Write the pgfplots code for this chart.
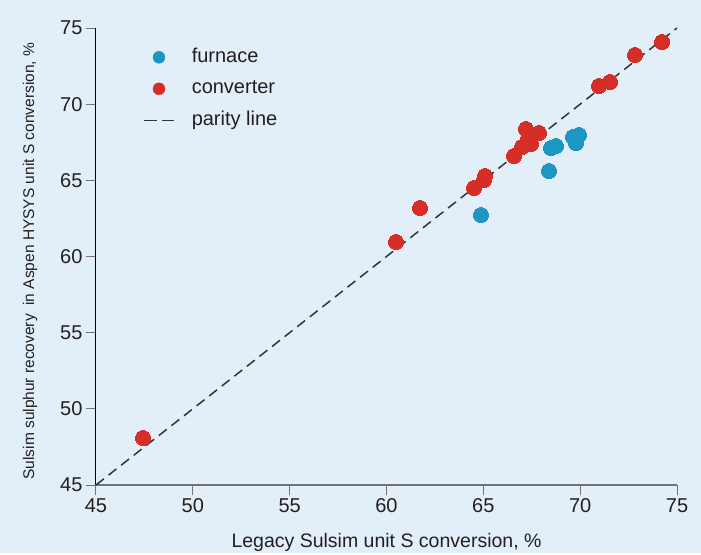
\documentclass[border=0pt]{standalone}
\usepackage{fontspec}
\setmainfont{Liberation Sans}
\usepackage{pgfplots}
\pgfplotsset{compat=1.18}
\usetikzlibrary{backgrounds}
\definecolor{bgblue}{RGB}{226,239,249}
\definecolor{furnace}{RGB}{30,150,196}
\definecolor{converter}{RGB}{212,46,38}
\definecolor{axisgray}{RGB}{115,115,115}
\definecolor{txt}{RGB}{35,31,32}
\definecolor{parity}{RGB}{51,51,51}
\begin{document}
\begin{tikzpicture}
\begin{axis}[
  scale only axis,
  width=581bp, height=457bp,
  xmin=45, xmax=75, ymin=45, ymax=75,
  xtick={45,50,...,75}, ytick={45,50,...,75},
  axis x line=bottom, axis y line=left,
  x axis line style={-, draw=axisgray, line width=1.6bp},
  y axis line style={-, draw=black, line width=1bp},
  tick align=outside,
  major tick length=10bp,
  tick style={draw=axisgray, line width=1bp},
  ticklabel style={font=\fontsize{20bp}{24bp}\selectfont, text=txt},
  /pgf/number format/assume math mode=true,
  xlabel={Legacy Sulsim unit S conversion, \%},
  ylabel={Sulsim sulphur recovery~~in Aspen HYSYS unit S conversion, \%},
  x label style={at={(axis description cs:0.5,0)}, anchor=base, yshift=-62bp,
    font=\fontsize{19.5bp}{23bp}\selectfont, text=txt},
  y label style={at={(axis description cs:0,0.49)}, anchor=center, yshift=66bp,
    font=\fontsize{15.5bp}{18bp}\selectfont, text=txt},
  legend style={draw=none, fill=none, inner sep=0pt,
    at={(axis description cs:0.081,0.956)}, anchor=north west,
    row sep=13.5bp, column sep=17bp,
    font=\fontsize{20bp}{24bp}\selectfont,
    nodes={inner sep=0pt, text height=14bp, text depth=4bp, text=txt}},
  legend cell align=left,
  clip=false,
]
% converter points
\addplot[only marks, color=converter, mark=*, mark size=7.5bp,
  mark options={fill=converter, draw=converter, line width=0pt}, forget plot]
  coordinates {
  (47.43,48.09) (61.73,63.18) (60.49,60.95) (64.52,64.50) (65.03,65.02)
  (65.09,65.28) (66.58,66.60) (67.00,67.19) (67.46,67.39) (67.30,67.65)
  (67.20,68.37) (67.87,68.11) (70.97,71.19) (71.54,71.46) (72.83,73.23)
  (74.23,74.08)
  };
% furnace points
\addplot[only marks, color=furnace, mark=*, mark size=7.5bp,
  mark options={fill=furnace, draw=furnace, line width=0pt}, forget plot]
  coordinates {
  (64.88,62.72) (68.39,65.61) (68.49,67.12) (68.75,67.25) (69.78,67.45)
  (69.63,67.85) (69.94,67.98)
  };
% parity line
\addplot[parity, line width=1.5bp, dash pattern=on 10bp off 6bp, forget plot]
  coordinates {(45,45) (75,75)};

\addlegendimage{legend image code/.code={\path (0bp,0bp) (30bp,0bp); \fill[furnace] (15bp,0bp) circle (6bp);}}
\addlegendentry{furnace}
\addlegendimage{legend image code/.code={\path (0bp,0bp) (30bp,0bp); \fill[converter] (15bp,0bp) circle (6bp);}}
\addlegendentry{converter}
\addlegendimage{legend image code/.code={\draw[parity, line width=1.5bp, dash pattern=on 12.5bp off 5bp] (0bp,0bp) -- (30bp,0bp);}}
\addlegendentry{parity line}
\end{axis}
\begin{scope}[on background layer]
  \fill[bgblue] (-96bp,-68bp) rectangle (605bp,485bp);
\end{scope}
\end{tikzpicture}
\end{document}
